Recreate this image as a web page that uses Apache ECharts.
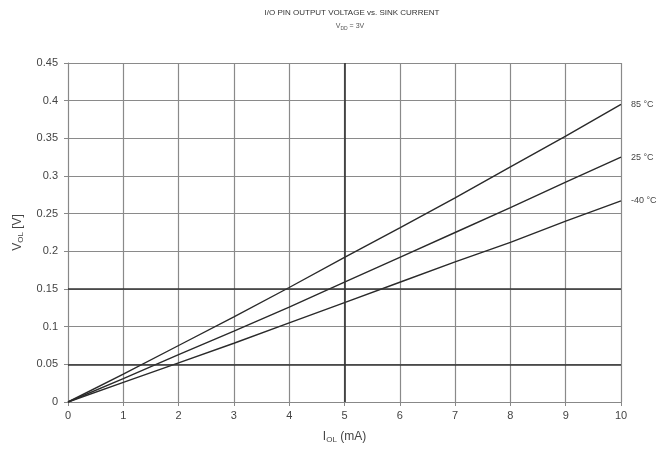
<!DOCTYPE html>
<html>
<head>
<meta charset="utf-8">
<script src="https://cdn.jsdelivr.net/npm/echarts@6/dist/echarts.min.js"></script>
<style>html,body{margin:0;padding:0;background:#fff}#c{width:660px;height:460px}</style>
</head>
<body>
<div id="c"></div>
<script>
var current = [0, 1, 2, 3, 4, 5, 6, 7, 8, 9, 10];
var v85 = [0, 0.037, 0.075, 0.113, 0.152, 0.192, 0.231, 0.271, 0.312, 0.353, 0.395];
var v25 = [0, 0.031, 0.063, 0.094, 0.126, 0.159, 0.192, 0.225, 0.258, 0.292, 0.325];
var vm40 = [0, 0.026, 0.052, 0.078, 0.105, 0.132, 0.159, 0.186, 0.212, 0.240, 0.267];
var seriesNames = ['85 °C', '25 °C', '-40 °C'];

function pairs(vals) { return current.map(function (x, i) { return [x, vals[i]]; }); }

var chart = echarts.init(document.getElementById('c'));
var lineStyle = { color: '#2a2a2a', width: 1.4 };
function mk(name, vals, extra) {
  var s = {
    name: name, type: 'line', data: pairs(vals), showSymbol: false, symbol: 'none',
    lineStyle: lineStyle, silent: true, animation: false,
    endLabel: { show: true, formatter: name, color: '#444', fontSize: 9, fontFamily: 'Liberation Sans', distance: 10 }
  };
  if (extra) for (var k in extra) s[k] = extra[k];
  return s;
}
chart.setOption({
  animation: false,
  grid: { left: 68, right: 39, top: 63, bottom: 58 },
  graphic: [
    { type: 'text', x: 352, y: 9, style: { text: 'I/O PIN OUTPUT VOLTAGE vs. SINK CURRENT', fill: '#333', font: '8px "Liberation Sans"', textAlign: 'center' } },
    { type: 'text', x: 350, y: 22, style: { text: '{a|V}{s|DD}{a| = 3V}', fill: '#555', textAlign: 'center', rich: { a: { fontSize: 7, fontFamily: 'Liberation Sans', fill: '#555' }, s: { fontSize: 5, fontFamily: 'Liberation Sans', fill: '#555', padding: [4, 0, 0, 0] } } } }
  ],
  xAxis: {
    type: 'value', min: 0, max: 10, interval: 1,
    name: '{a|I}{s|OL}{a| (mA)}', nameLocation: 'middle', nameGap: 28,
    nameTextStyle: { rich: { a: { fontSize: 12, color: '#444', fontFamily: 'Liberation Sans' }, s: { fontSize: 8, color: '#444', fontFamily: 'Liberation Sans', padding: [6, 0, 0, 0] } } },
    axisLine: { lineStyle: { color: '#888', width: 1 } },
    axisTick: { show: true, length: 4, lineStyle: { color: '#888' } },
    axisLabel: { color: '#444', fontSize: 11, fontFamily: 'Liberation Sans', margin: 8 },
    splitLine: { show: true, lineStyle: { color: '#8a8a8a', width: 1.2 } }
  },
  yAxis: {
    type: 'value', min: 0, max: 0.45, interval: 0.05,
    name: '{a|V}{s|OL}{a| [V]}', nameLocation: 'middle', nameGap: 43, nameRotate: 90,
    nameTextStyle: { rich: { a: { fontSize: 12, color: '#444', fontFamily: 'Liberation Sans' }, s: { fontSize: 8, color: '#444', fontFamily: 'Liberation Sans', padding: [6, 0, 0, 0] } } },
    axisLine: { show: true, lineStyle: { color: '#888', width: 1 } },
    axisTick: { show: true, length: 4, lineStyle: { color: '#888' } },
    axisLabel: { color: '#444', fontSize: 11, fontFamily: 'Liberation Sans', margin: 10, formatter: function (v) { return String(Math.round(v * 100) / 100); } },
    splitLine: { show: true, lineStyle: { color: '#8a8a8a', width: 1.2 } }
  },
  series: [
    mk(seriesNames[0], v85, {
      markLine: {
        silent: true, symbol: 'none', label: { show: false },
        lineStyle: { color: '#333', width: 1.6, type: 'solid' },
        data: [{ xAxis: 5 }, { yAxis: 0.05 }, { yAxis: 0.15 }]
      }
    }),
    mk(seriesNames[1], v25),
    mk(seriesNames[2], vm40)
  ]
});
</script>
</body>
</html>
